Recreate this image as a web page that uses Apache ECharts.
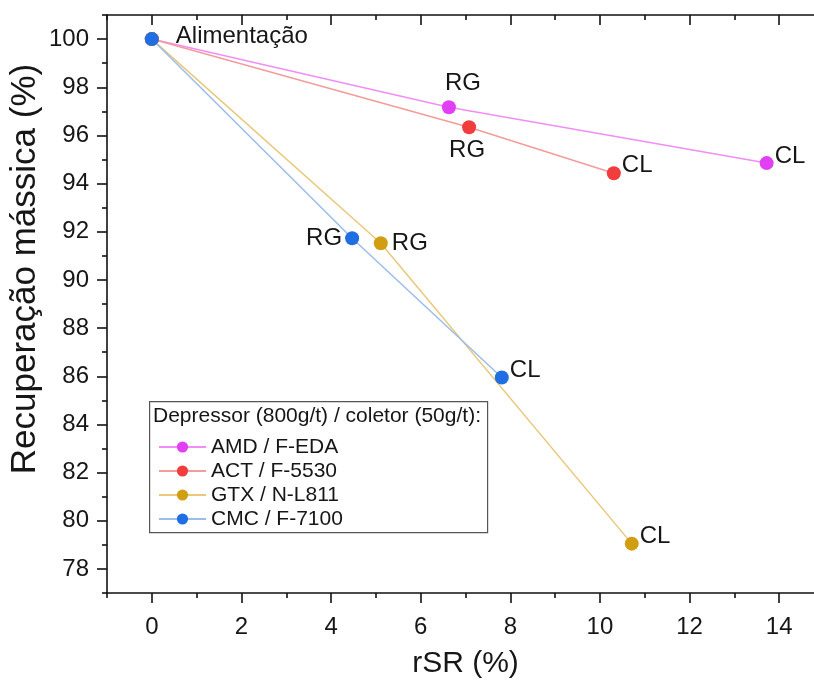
<!DOCTYPE html>
<html>
<head>
<meta charset="utf-8">
<script src="https://cdn.jsdelivr.net/npm/echarts@6/dist/echarts.min.js"></script>
<style>
  html, body { margin: 0; padding: 0; background: #fff; }
  #chart { width: 814px; height: 682px; }
</style>
</head>
<body>
<div id="chart"></div>
<script>
// Mass recovery versus rSR for four depressor / collector pairs
const seriesNames = ['AMD / F-EDA', 'ACT / F-5530', 'GTX / N-L811', 'CMC / F-7100'];
const pointNames = ['Alimentação', 'RG', 'CL'];

const amdRsr = [0, 6.63, 13.72];
const amdRec = [100, 97.17, 94.85];
const actRsr = [0, 7.08, 10.31];
const actRec = [100, 96.34, 94.43];
const gtxRsr = [0, 5.11, 10.71];
const gtxRec = [100, 91.52, 79.05];
const cmcRsr = [0, 4.47, 7.81];
const cmcRec = [100, 91.73, 85.95];

const xTickValues = [0, 2, 4, 6, 8, 10, 12, 14];
const xMinorValues = [-1, 1, 3, 5, 7, 9, 11, 13, 15];
const yTickValues = [78, 80, 82, 84, 86, 88, 90, 92, 94, 96, 98, 100];
const yMinorValues = [77, 79, 81, 83, 85, 87, 89, 91, 93, 95, 97, 99, 101];

const FONT = '"Liberation Sans", Arial, sans-serif';
const INK = '#161616';

const markerColors = ['#e23ef4', '#f23d3d', '#d19e12', '#1f6fe3'];
const lineColors = ['#f08ef6', '#f39c9c', '#e9c87a', '#9cbce9'];

// label placement for each point of each series (null = no label)
const labelPlacement = [
  [null, { position: 'top', distance: 5, offset: [14, 0] }, { position: 'right', distance: 1, offset: [0, -7] }],
  [null, { position: 'bottom', distance: 4, offset: [-2, 0] }, { position: 'right', distance: 1, offset: [0, -8] }],
  [null, { position: 'right', distance: 4, offset: [0, 0] }, { position: 'right', distance: 1, offset: [0, -7] }],
  [{ position: 'right', distance: 17, offset: [0, -3] }, { position: 'left', distance: 3, offset: [0, 0] }, { position: 'right', distance: 1, offset: [0, -7] }]
];

function buildData(xs, ys, placements) {
  return xs.map(function (x, i) {
    const p = placements[i];
    const item = { value: [x, ys[i]], name: pointNames[i] };
    if (p) {
      item.label = {
        show: true,
        position: p.position,
        distance: p.distance,
        offset: p.offset,
        formatter: pointNames[i],
        fontSize: 24,
        fontFamily: FONT,
        color: INK
      };
    } else {
      item.label = { show: false };
    }
    return item;
  });
}

const xsList = [amdRsr, actRsr, gtxRsr, cmcRsr];
const ysList = [amdRec, actRec, gtxRec, cmcRec];

const series = seriesNames.map(function (name, k) {
  return {
    name: name,
    type: 'line',
    xAxisIndex: 0,
    yAxisIndex: 0,
    symbol: 'circle',
    symbolSize: 14,
    z: 2 + k,
    itemStyle: { color: markerColors[k] },
    lineStyle: { color: lineColors[k], width: 1.5 },
    emphasis: { disabled: true },
    data: buildData(xsList[k], ysList[k], labelPlacement[k])
  };
});

const axisLineStyle = { color: '#111', width: 1.6 };

function xAxisDef(position, values, len, inside, showLine, withLabels) {
  const def = {
    type: 'value', min: -1, max: 15, position: position,
    splitLine: { show: false },
    axisLine: { show: showLine, onZero: false, lineStyle: axisLineStyle },
    axisTick: { show: true, inside: inside, length: len, customValues: values, lineStyle: { color: '#111', width: 1.6 } },
    axisLabel: { show: false }
  };
  if (withLabels) {
    def.axisLabel = { show: true, customValues: values, fontSize: 24, fontFamily: FONT, color: INK, margin: 22 };
    def.name = 'rSR (%)';
    def.nameLocation = 'middle';
    def.nameGap = 56;
    def.nameTextStyle = { fontSize: 30, fontFamily: FONT, color: INK };
  }
  return def;
}

function yAxisDef(position, values, len, inside, showLine, withLabels) {
  const def = {
    type: 'value', min: 77, max: 101, position: position,
    splitLine: { show: false },
    axisLine: { show: showLine, onZero: false, lineStyle: axisLineStyle },
    axisTick: { show: true, inside: inside, length: len, customValues: values, lineStyle: { color: '#111', width: 1.6 } },
    axisLabel: { show: false }
  };
  if (withLabels) {
    def.axisLabel = { show: true, customValues: values, fontSize: 24, fontFamily: FONT, color: INK, margin: 18 };
    def.name = 'Recuperação mássica (%)';
    def.nameLocation = 'middle';
    def.nameGap = 64;
    def.nameMoveOverlap = false;
    // left padding lifts the rotated title above the axis centre
    def.nameTextStyle = { fontSize: 35, fontFamily: FONT, color: INK, padding: [0, 0, 0, 70] };
  }
  return def;
}

const chart = echarts.init(document.getElementById('chart'), null, { renderer: 'canvas' });

chart.setOption({
  animation: false,
  backgroundColor: '#fff',
  grid: { left: 107, top: 15, width: 717, bottom: 89, containLabel: false, outerBoundsMode: 'none' },
  xAxis: [
    xAxisDef('bottom', xTickValues, 10, false, true, true),
    xAxisDef('bottom', xMinorValues, 5, false, false, false),
    xAxisDef('top', xTickValues, 10, true, true, false),
    xAxisDef('top', xMinorValues, 5, true, false, false)
  ],
  yAxis: [
    yAxisDef('left', yTickValues, 10, false, true, true),
    yAxisDef('left', yMinorValues, 5, false, false, false),
    yAxisDef('right', yTickValues, 10, true, true, false),
    yAxisDef('right', yMinorValues, 5, true, false, false)
  ],
  legend: {
    orient: 'vertical',
    left: 153,
    top: 431,
    itemWidth: 47,
    itemHeight: 14,
    itemGap: 2,
    selectedMode: false,
    data: seriesNames,
    textStyle: { fontSize: 21, fontFamily: FONT, color: INK, lineHeight: 22 }
  },
  graphic: [
    {
      type: 'rect',
      left: 149, top: 401,
      shape: { width: 338, height: 131 },
      style: { fill: 'rgba(255,255,255,0)', stroke: '#555', lineWidth: 1.2 },
      z: 1
    },
    {
      type: 'text',
      left: 153, top: 406,
      style: { text: 'Depressor (800g/t) / coletor (50g/t):', fontSize: 21, fontFamily: FONT, fill: INK },
      z: 2
    }
  ],
  series: series
});
</script>
</body>
</html>
